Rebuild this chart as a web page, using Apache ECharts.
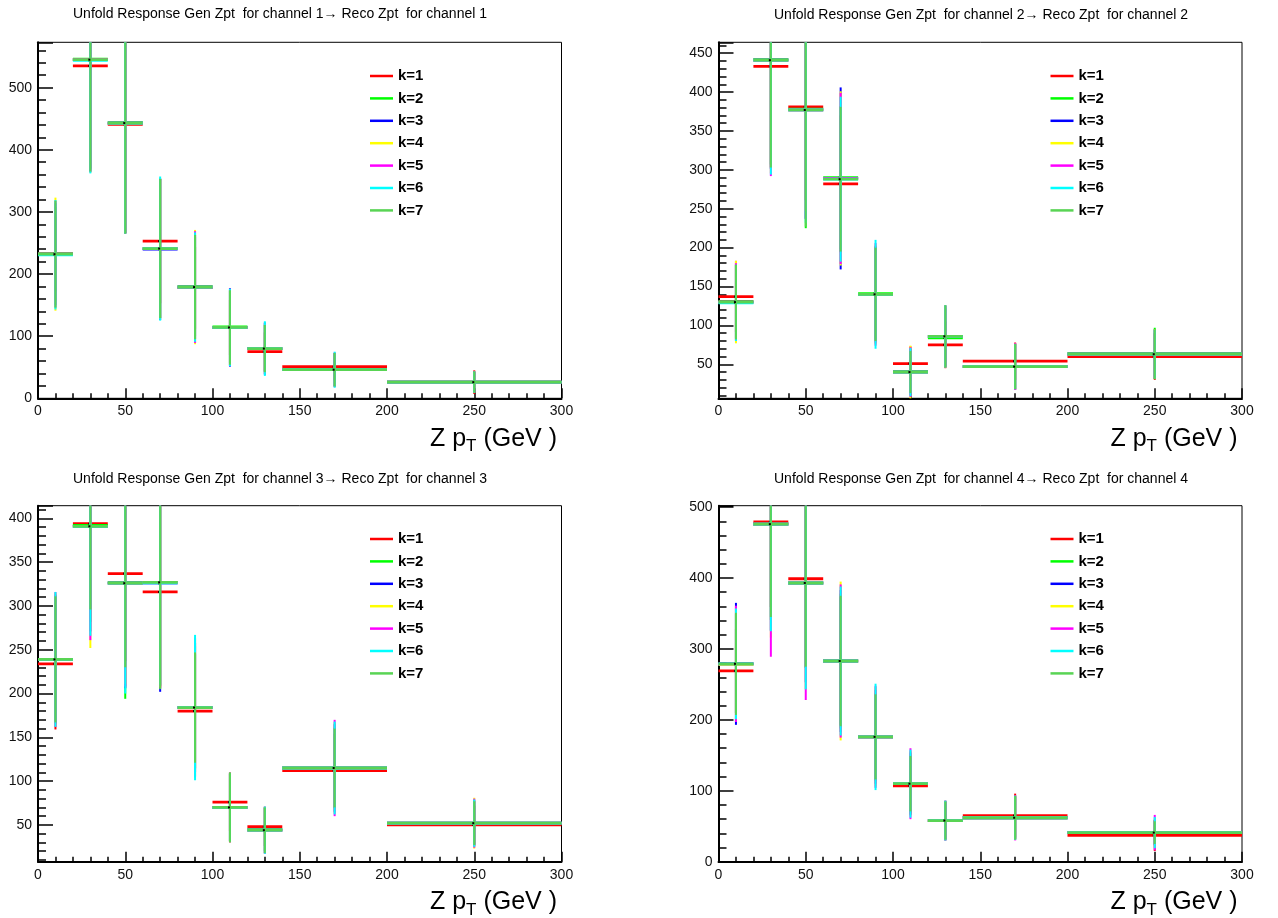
<!DOCTYPE html>
<html><head><meta charset="utf-8">
<script src="https://cdn.jsdelivr.net/npm/echarts@6/dist/echarts.min.js"></script>
<style>html,body{margin:0;padding:0;background:#fff}#c{width:1278px;height:918px}</style>
</head><body><div id="c"></div>
<script>
// ---------------- data ----------------
const binEdges = [0, 20, 40, 60, 80, 100, 120, 140, 200, 300];
const xTicks = [0, 50, 100, 150, 200, 250, 300];
const kLabels = ['k=1', 'k=2', 'k=3', 'k=4', 'k=5', 'k=6', 'k=7'];
const channelTitles = [
  'Unfold Response Gen Zpt  for channel 1\u2192 Reco Zpt  for channel 1',
  'Unfold Response Gen Zpt  for channel 2\u2192 Reco Zpt  for channel 2',
  'Unfold Response Gen Zpt  for channel 3\u2192 Reco Zpt  for channel 3',
  'Unfold Response Gen Zpt  for channel 4\u2192 Reco Zpt  for channel 4'
];
// rows: k=1..k=7, columns: bins
const ch1Values = [
  [232, 535, 441, 253, 178, 114, 75, 51, 26],
  [233, 546, 444, 241, 180, 115, 80, 46, 26],
  [232, 545, 443, 240, 179, 114, 80, 46, 26],
  [232, 545, 443, 241, 179, 114, 80, 46, 26],
  [232, 545, 443, 241, 179, 114, 80, 46, 26],
  [231, 544, 443, 241, 179, 114, 80, 46, 26],
  [232, 545, 443, 241, 179, 114, 80, 46, 26]
];
const ch1Errors = [
  [60, 165, 175, 100, 66, 45, 31, 22, 19],
  [75, 178, 178, 112, 80, 58, 38, 26, 17],
  [82, 180, 178, 114, 84, 63, 42, 27, 17],
  [91, 182, 178, 113, 92, 60, 40, 27, 17],
  [86, 181, 178, 112, 90, 61, 41, 28, 17],
  [88, 182, 178, 116, 88, 62, 44, 29, 17],
  [86, 180, 178, 112, 84, 60, 38, 27, 17]
];
const ch2Values = [
  [137, 433, 381, 282, 140, 51, 75, 54, 60],
  [131, 442, 378, 290, 141, 41, 84, 47, 64],
  [130, 441, 377, 289, 140, 40, 86, 47, 63],
  [130, 441, 377, 289, 140, 40, 86, 47, 63],
  [130, 441, 377, 289, 140, 40, 86, 47, 63],
  [129, 441, 377, 288, 140, 40, 86, 47, 63],
  [130, 441, 377, 288, 140, 40, 86, 47, 63]
];
const ch2Errors = [
  [46, 130, 120, 88, 58, 22, 30, 24, 30],
  [47, 135, 153, 92, 60, 28, 38, 29, 33],
  [49, 140, 140, 117, 62, 30, 39, 30, 32],
  [53, 145, 130, 112, 64, 34, 40, 30, 32],
  [50, 149, 140, 110, 66, 32, 40, 30, 31],
  [49, 147, 145, 106, 70, 31, 40, 29, 31],
  [48, 138, 150, 93, 60, 27, 40, 29, 32]
];
const ch3Values = [
  [234, 394, 337, 316, 180, 76, 48, 112, 50],
  [239, 392, 327, 327, 184, 70, 45, 115, 52],
  [239, 391, 326, 327, 184, 70, 44, 115, 52],
  [239, 391, 326, 327, 184, 70, 44, 115, 52],
  [239, 391, 326, 326, 184, 70, 44, 115, 52],
  [239, 391, 326, 326, 184, 70, 44, 115, 52],
  [239, 391, 326, 327, 184, 70, 44, 115, 52]
];
const ch3Errors = [
  [75, 98, 100, 110, 65, 33, 22, 42, 22],
  [72, 110, 133, 118, 70, 38, 25, 46, 25],
  [74, 120, 120, 125, 74, 39, 26, 50, 26],
  [76, 139, 115, 120, 78, 40, 27, 52, 29],
  [77, 130, 118, 118, 80, 40, 27, 55, 28],
  [77, 125, 126, 116, 83, 39, 27, 53, 27],
  [72, 95, 96, 122, 63, 40, 26, 45, 25]
];
const ch4Values = [
  [269, 479, 399, 283, 176, 107, 58, 65, 37],
  [279, 476, 393, 283, 176, 110, 58, 62, 41],
  [279, 476, 393, 283, 176, 110, 58, 62, 41],
  [278, 476, 393, 283, 176, 110, 58, 62, 41],
  [279, 476, 393, 283, 176, 110, 58, 62, 41],
  [279, 476, 393, 283, 176, 110, 58, 62, 41],
  [279, 476, 393, 283, 176, 110, 58, 62, 41]
];
const ch4Errors = [
  [60, 120, 125, 90, 60, 40, 26, 31, 22],
  [70, 135, 120, 95, 62, 41, 27, 31, 17],
  [86, 150, 140, 100, 66, 44, 28, 30, 18],
  [80, 160, 150, 112, 70, 46, 28, 30, 20],
  [82, 187, 165, 108, 72, 50, 28, 32, 25],
  [78, 151, 150, 105, 75, 48, 28, 31, 22],
  [72, 131, 118, 92, 60, 39, 27, 31, 16]
];
const yRanges = [[0, 573], [6.3, 464], [8, 414.5], [0, 502]];

// ---------------- style / layout ----------------
const kColors = ['#ff0000', '#00ff00', '#0000ff', '#ffff00', '#ff00ff', '#00ffff', '#59d454'];
const FONT = '"Liberation Sans", Arial, Helvetica, sans-serif';
const panels = [
  { left: 38, top: 42.3, lx: 370, ly: 68.5, tx: 280, ty: 14, values: ch1Values, errors: ch1Errors },
  { left: 718.5, top: 42.3, lx: 1050.5, ly: 68.5, tx: 981, ty: 15, values: ch2Values, errors: ch2Errors },
  { left: 38, top: 505.7, lx: 370, ly: 531.5, tx: 280, ty: 479, values: ch3Values, errors: ch3Errors },
  { left: 718.5, top: 505.7, lx: 1050.5, ly: 531.5, tx: 981, ty: 479, values: ch4Values, errors: ch4Errors }
];
const GW = 523.5, GH = 356;

const grid = [], xAxis = [], yAxis = [], series = [], legend = [], graphic = [];

function renderCross(params, api) {
  const xc = api.value(0), yv = api.value(1), xl = api.value(2), xr = api.value(3), e = api.value(4);
  const c = api.coord([xc, yv]);
  const l = api.coord([xl, yv]);
  const r = api.coord([xr, yv]);
  const t = api.coord([xc, yv + e]);
  const b = api.coord([xc, yv - e]);
  const cs = params.coordSys;
  const y1 = Math.max(t[1], cs.y), y2 = Math.min(b[1], cs.y + cs.height);
  const col = api.visual('color');
  return {
    type: 'group',
    children: [
      { type: 'line', shape: { x1: l[0], y1: c[1], x2: r[0], y2: c[1] }, style: { stroke: col, lineWidth: 2.8 } },
      { type: 'line', shape: { x1: c[0], y1: y1, x2: c[0], y2: y2 }, style: { stroke: col, lineWidth: 2 } },
      { type: 'rect', shape: { x: c[0] - 2, y: c[1] - 1, width: 2, height: 2 }, style: { fill: '#000' } }
    ]
  };
}

panels.forEach((p, pi) => {
  grid.push({ left: p.left, top: p.top, width: GW, height: GH, show: true, borderColor: '#000', borderWidth: 1, backgroundColor: 'transparent' });
  xAxis.push({
    type: 'value', gridIndex: pi, min: xTicks[0], max: xTicks[xTicks.length - 1], interval: xTicks[1] - xTicks[0],
    axisLine: { onZero: false, lineStyle: { color: '#000', width: 2 } },
    axisTick: { inside: true, length: 10, lineStyle: { color: '#000', width: 1.5 } },
    minorTick: { show: true, splitNumber: 5, length: 5, lineStyle: { color: '#000', width: 1.5 } },
    axisLabel: { fontSize: 14, color: '#111', margin: 6, fontFamily: FONT },
    splitLine: { show: false }
  });
  const yr = yRanges[pi];
  const yCfg = {
    type: 'value', gridIndex: pi, min: yr[0], max: yr[1],
    axisLine: { onZero: false, lineStyle: { color: '#000', width: 2 } },
    axisTick: { inside: true, length: 15, lineStyle: { color: '#000', width: 1.5 } },
    minorTick: { show: true, splitNumber: 5, length: 8, lineStyle: { color: '#000', width: 1.5 } },
    axisLabel: { fontSize: 14, color: '#111', margin: 6, fontFamily: FONT, showMaxLabel: false, showMinLabel: yr[0] === 0 },
    splitLine: { show: false }
  };
  if (yr[0] === 0) yCfg.interval = 100; else yCfg.splitNumber = pi === 1 ? 9 : 8;
  yAxis.push(yCfg);

  kLabels.forEach((name, k) => {
    const data = [];
    for (let i = 0; i < binEdges.length - 1; i++) {
      const lo = binEdges[i], hi = binEdges[i + 1];
      data.push([(lo + hi) / 2, p.values[k][i], lo, hi, p.errors[k][i]]);
    }
    series.push({
      type: 'custom', name, xAxisIndex: pi, yAxisIndex: pi,
      itemStyle: { color: kColors[k] },
      renderItem: renderCross, data, silent: true, animation: false,
      encode: { x: [0, 2, 3], y: 1 }
    });
  });

  legend.push({
    data: kLabels, orient: 'vertical', left: p.lx, top: p.ly, padding: 0,
    icon: 'rect', itemWidth: 23, itemHeight: 2.5, itemGap: 7.4, selectedMode: false,
    textStyle: { fontSize: 15, fontWeight: 'bold', color: '#000', fontFamily: FONT, lineHeight: 15 }
  });

  graphic.push({
    type: 'text', x: p.tx, y: p.ty,
    style: { text: channelTitles[pi], fontSize: 14, fontFamily: FONT, fill: '#000', align: 'center', verticalAlign: 'middle' }
  });
  graphic.push({
    type: 'text', x: p.left + GW - 4.5, y: p.top + GH + 53,
    style: {
      text: '{a|Z p}{b|T}{a| (GeV )}', align: 'right', verticalAlign: 'bottom', fill: '#000',
      rich: {
        a: { fontSize: 25, fontFamily: FONT, fill: '#000', lineHeight: 30, verticalAlign: 'bottom' },
        b: { fontSize: 17, fontFamily: FONT, fill: '#000', lineHeight: 30, verticalAlign: 'bottom', padding: [0, 0, -4, 0] }
      }
    }
  });
});

const chart = echarts.init(document.getElementById('c'), null, { renderer: 'canvas' });
chart.setOption({ backgroundColor: '#fff', animation: false, grid, xAxis, yAxis, series, legend, graphic });
</script></body></html>
